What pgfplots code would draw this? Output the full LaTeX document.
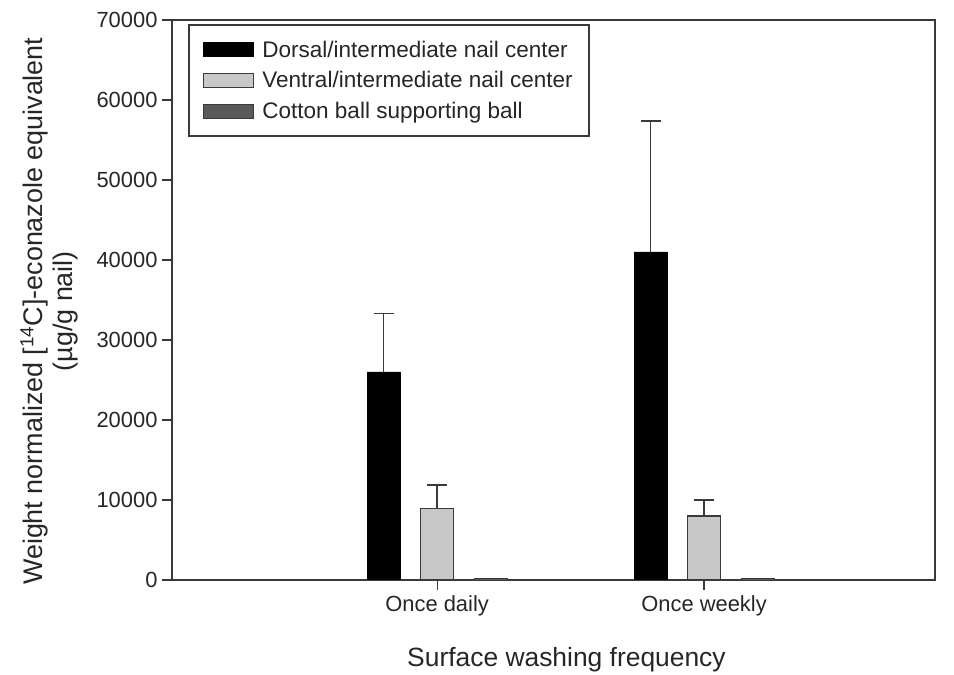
\documentclass[border=0pt]{standalone}
\usepackage{pgfplots}
\pgfplotsset{compat=1.18}
\usepackage{fontspec}
\setmainfont{Liberation Sans}
\definecolor{axgray}{HTML}{3A3A3A}
\definecolor{ventral}{HTML}{C8C8C8}
\definecolor{cotton}{HTML}{5A5A5A}
\begin{document}
\begin{tikzpicture}
\useasboundingbox (0,0) rectangle (954bp,675bp);
\begin{axis}[
  at={(172bp,95bp)}, anchor=south west,
  scale only axis, width=763bp, height=560bp,
  xmin=0.007, xmax=2.865, ymin=0, ymax=70000,
  xtick={1,2}, xticklabels={Once daily, Once weekly},
  ytick={0,10000,...,70000},
  scaled y ticks=false,
  /pgf/number format/assume math mode=true,
  /pgf/number format/1000 sep={},
  tick align=outside, tick pos=left,
  major tick length=10bp,
  axis line style={axgray, line width=1.4bp},
  tick style={axgray, line width=1.2bp},
  tick label style={font=\fontsize{22}{26}\selectfont, text=black!85},
  yticklabel style={xshift=-1bp},
  xticklabel style={yshift=-2bp},
  xlabel={Surface washing frequency},
  ylabel={Weight normalized [\textsuperscript{14}C]-econazole equivalent\\(µg/g nail)},
  xlabel style={font=\fontsize{26.5}{30}\selectfont, text=black!85, at={(axis description cs:0.517,-0.143)}, anchor=center},
  ylabel style={font=\fontsize{27}{30}\selectfont, text=black!85, at={(axis description cs:-0.161,0.48)}, anchor=center, align=center},
  ybar, bar width=0.124, bar shift=0pt,
  error bars/y dir=plus, error bars/y explicit,
  error bars/error bar style={axgray, line width=1.5bp},
  error bars/error mark options={axgray, line width=1.5bp, mark size=10bp, rotate=90},
  legend style={at={(axis description cs:0.021,0.993)}, anchor=north west,
    draw=axgray, line width=1.8bp, font=\fontsize{22.6}{27}\selectfont,
    inner xsep=14bp, inner ysep=14bp, row sep=9bp, text=black!85},
  legend cell align=left,
  legend image code/.code={\draw[#1, line width=1bp] (0bp,-7bp) rectangle (50bp,7bp); \path[draw=none, fill=none] (0bp,0bp) -- (57bp,0bp);},
]
\addplot[fill=black, draw=black, line width=0.8bp] coordinates {(0.8,26000) +- (0,7300) (1.8,41000) +- (0,16400)};
\addlegendentry{Dorsal/intermediate nail center}
\addplot[fill=ventral, draw=axgray, line width=1.2bp] coordinates {(1,8900) +- (0,3000) (2,8000) +- (0,2000)};
\addlegendentry{Ventral/intermediate nail center}
\addplot[fill=cotton, draw=axgray, line width=0.8bp, error bars/y dir=none] coordinates {(1.2,150) (2.2,150)};
\addlegendentry{Cotton ball supporting ball}
\draw[axgray, line width=1.4bp] (rel axis cs:0,1) -- (rel axis cs:1,1) -- (rel axis cs:1,0);
\end{axis}
\end{tikzpicture}
\end{document}
